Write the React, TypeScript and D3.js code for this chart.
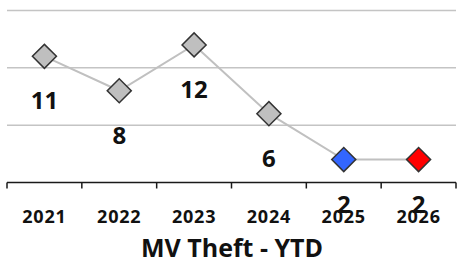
import React, { useEffect, useRef } from 'react';
import * as d3 from 'd3';

const years = ['2021', '2022', '2023', '2024', '2025', '2026'];
const theftCounts = [11, 8, 12, 6, 2, 2];
const markerFills = ['#bfbfbf', '#bfbfbf', '#bfbfbf', '#bfbfbf', '#3366ff', '#ff0000'];
const gridValues = [5, 10, 15];
const chartTitle = 'MV Theft - YTD';

const WIDTH = 462;
const HEIGHT = 263;
const FONT = "'Open Sans', sans-serif";

const App: React.FC = () => {
  const svgRef = useRef<SVGSVGElement>(null);

  useEffect(() => {
    if (!svgRef.current) return;
    const svg = d3.select(svgRef.current);
    svg.selectAll('*').remove();

    const x = d3.scaleBand<string>().domain(years).range([7, 456]).padding(0);
    const y = d3.scaleLinear().domain([0, 15]).range([182.5, 10.5]);
    const cx = (d: string) => (x(d) ?? 0) + x.bandwidth() / 2;

    // gridlines
    svg.append('g')
      .selectAll('line')
      .data(gridValues)
      .join('line')
      .attr('x1', 7)
      .attr('x2', 456)
      .attr('y1', d => y(d))
      .attr('y2', d => y(d))
      .attr('stroke', '#c4c4c4')
      .attr('stroke-width', 1.5);

    // category axis
    const axisY = y(0);
    const bounds = years.map(d => x(d) ?? 0).concat([x.range()[1]]);
    const axis = svg.append('g');
    axis.append('line')
      .attr('x1', 7).attr('x2', 456)
      .attr('y1', axisY).attr('y2', axisY)
      .attr('stroke', '#1a1a1a').attr('stroke-width', 1.5);
    axis.selectAll('line.tick')
      .data(bounds)
      .join('line')
      .attr('class', 'tick')
      .attr('x1', d => d).attr('x2', d => d)
      .attr('y1', axisY).attr('y2', axisY + 6)
      .attr('stroke', '#1a1a1a').attr('stroke-width', 1.5);
    axis.selectAll('text')
      .data(years)
      .join('text')
      .attr('x', cx)
      .attr('y', 223)
      .attr('text-anchor', 'middle')
      .attr('font-family', FONT)
      .attr('font-weight', 700)
      .attr('font-size', 18)
      .attr('letter-spacing', 0.8)
      .attr('fill', '#111')
      .text(d => d);

    // line
    const line = d3.line<number>()
      .x((_, i) => cx(years[i]))
      .y(d => y(d));
    svg.append('path')
      .datum(theftCounts)
      .attr('d', line)
      .attr('fill', 'none')
      .attr('stroke', '#c0c0c0')
      .attr('stroke-width', 2);

    // diamond markers
    const diamond = d3.symbol().type(d3.symbolSquare).size(17 * 17);
    svg.append('g')
      .selectAll('path')
      .data(theftCounts)
      .join('path')
      .attr('d', diamond)
      .attr('transform', (d, i) => `translate(${cx(years[i])},${y(d)}) rotate(45)`)
      .attr('fill', (_, i) => markerFills[i])
      .attr('stroke', '#333')
      .attr('stroke-width', 1.5);

    // data labels
    svg.append('g')
      .selectAll('text')
      .data(theftCounts)
      .join('text')
      .attr('x', (_, i) => cx(years[i]))
      .attr('y', d => y(d) + 53)
      .attr('text-anchor', 'middle')
      .attr('font-family', FONT)
      .attr('font-weight', 700)
      .attr('font-size', 24)
      .attr('fill', '#111')
      .text(d => d);

    // title
    svg.append('text')
      .attr('x', 232)
      .attr('y', 257)
      .attr('text-anchor', 'middle')
      .attr('font-family', FONT)
      .attr('font-weight', 700)
      .attr('font-size', 25)
      .attr('fill', '#111')
      .text(chartTitle);
  }, []);

  return (
    <svg
      ref={svgRef}
      width={WIDTH}
      height={HEIGHT}
      style={{ position: 'absolute', left: 0, top: 0, background: '#fff' }}
    />
  );
};

export default App;
